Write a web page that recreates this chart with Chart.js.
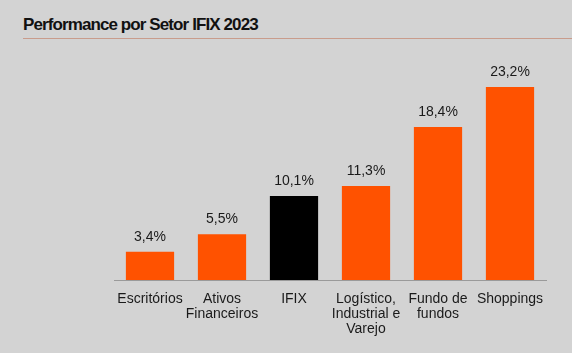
<!DOCTYPE html>
<html>
<head>
<meta charset="utf-8">
<script src="https://cdn.jsdelivr.net/npm/chart.js@4"></script>
<style>
  html, body { margin: 0; padding: 0; background: #d3d3d3; }
  #wrap { position: relative; width: 572px; height: 353px; overflow: hidden; }
  #title { position: absolute; left: 23px; top: 15px; font: bold 17px "Liberation Sans", Arial, sans-serif;
           letter-spacing: -0.9px; color: #111; white-space: nowrap; }
  #rule { position: absolute; left: 23px; right: 0; top: 38px; height: 1px; background: #c99c8c; }
  canvas { position: absolute; left: 0; top: 0; }
</style>
</head>
<body>
<div id="wrap">
  <div id="title">Performance por Setor IFIX 2023</div>
  <div id="rule"></div>
  <canvas id="chart" width="572" height="353"></canvas>
</div>
<script>
var sectors = [
    "Escritórios",
    ["Ativos", "Financeiros"],
    "IFIX",
    ["Logístico,", "Industrial e", "Varejo"],
    ["Fundo de", "fundos"],
    "Shoppings"
];
var performance = [3.4, 5.5, 10.1, 11.3, 18.4, 23.2];
var barColors = ["#ff5200", "#ff5200", "#000000", "#ff5200", "#ff5200", "#ff5200"];

var fontFamily = "'Liberation Sans', Arial, sans-serif";

// writes the value above each bar
var valueLabels = {
    id: "valueLabels",
    afterDatasetsDraw: function(chart) {
        var ctx = chart.ctx;
        var meta = chart.getDatasetMeta(0);
        ctx.save();
        ctx.font = "14px " + fontFamily;
        ctx.fillStyle = "#1a1a1a";
        ctx.textAlign = "center";
        ctx.textBaseline = "alphabetic";
        meta.data.forEach(function(bar, i) {
            var txt = performance[i].toFixed(1).replace(".", ",") + "%";
            ctx.fillText(txt, bar.x, bar.y - 11);
        });
        ctx.restore();
    }
};

var ctx = document.getElementById("chart").getContext("2d");
var chart = new Chart(ctx, {
    type: "bar",
    data: {
        labels: sectors,
        datasets: [{
            data: performance,
            backgroundColor: barColors,
            borderWidth: 0,
            barPercentage: 0.67,
            categoryPercentage: 1.0
        }]
    },
    options: {
        responsive: false,
        animation: false,
        layout: { padding: { left: 114, right: 26, top: 47, bottom: 0 } },
        plugins: {
            legend: { display: false },
            tooltip: { enabled: false },
            title: { display: false }
        },
        scales: {
            x: {
                grid: { display: false },
                border: { display: true, color: "#9a9a9a", width: 1 },
                ticks: {
                    color: "#1a1a1a",
                    font: { family: fontFamily, size: 14, lineHeight: 1.1 },
                    padding: 3,
                    maxRotation: 0,
                    autoSkip: false
                },
                afterFit: function(scale) { scale.height = 73; }
            },
            y: {
                display: false,
                min: 0,
                max: 28
            }
        }
    },
    plugins: [valueLabels]
});
</script>
</body>
</html>
